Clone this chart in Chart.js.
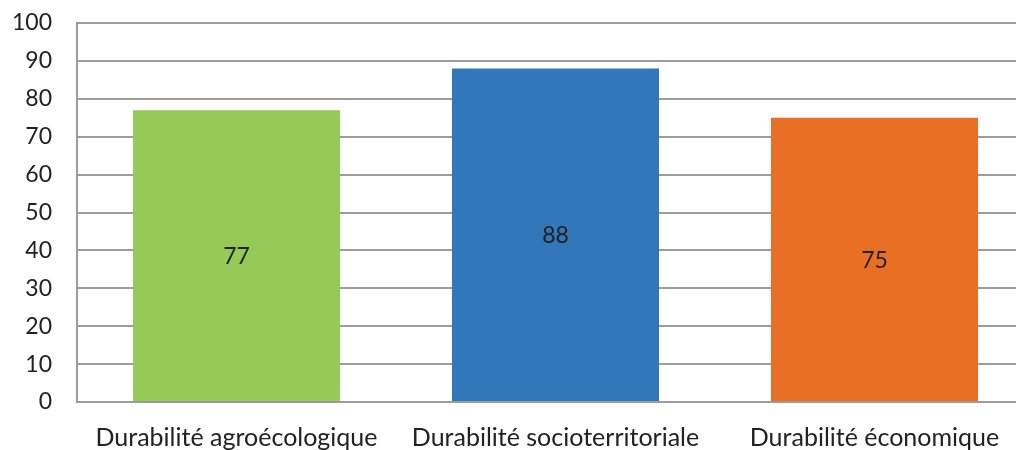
<!DOCTYPE html>
<html>
<head>
<meta charset="utf-8">
<script src="https://cdn.jsdelivr.net/npm/chart.js@4"></script>
<style>
html,body{margin:0;padding:0;background:#fff;overflow:hidden;}
#wrap{width:1034px;height:450px;}
</style>
</head>
<body>
<div id="wrap"><canvas id="c" width="1034" height="450"></canvas></div>
<script>
const categories = ["Durabilité agroécologique", "Durabilité socioterritoriale", "Durabilité économique"];
const values = [77, 88, 75];
const barColors = ["#95CA58", "#3277B9", "#E96F25"];
const yTicks = [0, 10, 20, 30, 40, 50, 60, 70, 80, 90, 100];

const FONT = "Lato, 'Open Sans', 'Liberation Sans', sans-serif";

const centerLabels = {
  id: 'centerLabels',
  afterDatasetsDraw(chart) {
    const ctx = chart.ctx;
    const meta = chart.getDatasetMeta(0);
    ctx.save();
    ctx.font = "23px " + FONT;
    ctx.fillStyle = "#222222";
    ctx.textAlign = "center";
    ctx.textBaseline = "middle";
    meta.data.forEach((bar, i) => {
      const p = bar.getProps(['x', 'y', 'base'], true);
      ctx.fillText(String(values[i]), p.x, (p.y + p.base) / 2 + 1);
    });
    ctx.restore();
  }
};

new Chart(document.getElementById('c'), {
  type: 'bar',
  data: {
    labels: categories,
    datasets: [{
      data: values,
      backgroundColor: barColors,
      borderWidth: 0,
      barPercentage: 1,
      categoryPercentage: 0.649
    }]
  },
  options: {
    responsive: false,
    animation: false,
    devicePixelRatio: 1,
    layout: { padding: { top: 23, right: 0, left: 0, bottom: 0 } },
    plugins: { legend: { display: false }, tooltip: { enabled: false } },
    scales: {
      x: {
        grid: { display: false, drawTicks: false },
        border: { display: true, color: '#9c9c9c', width: 2 },
        ticks: { color: '#222222', font: { family: FONT, size: 25 }, padding: 21, maxRotation: 0 },
        afterFit(scale) { scale.height = 48; scale.paddingLeft = 0; scale.paddingRight = 0; }
      },
      y: {
        min: 0, max: 100,
        afterBuildTicks(scale) { scale.ticks = yTicks.map(v => ({ value: v })); },
        grid: { color: '#9c9c9c', lineWidth: 2, drawTicks: false },
        border: { display: true, color: '#9c9c9c', width: 2 },
        ticks: { color: '#222222', font: { family: FONT, size: 23 }, padding: 25 },
        afterFit(scale) { scale.width = 77; scale.paddingTop = 0; scale.paddingBottom = 0; }
      }
    }
  },
  plugins: [centerLabels]
});
</script>
</body>
</html>
